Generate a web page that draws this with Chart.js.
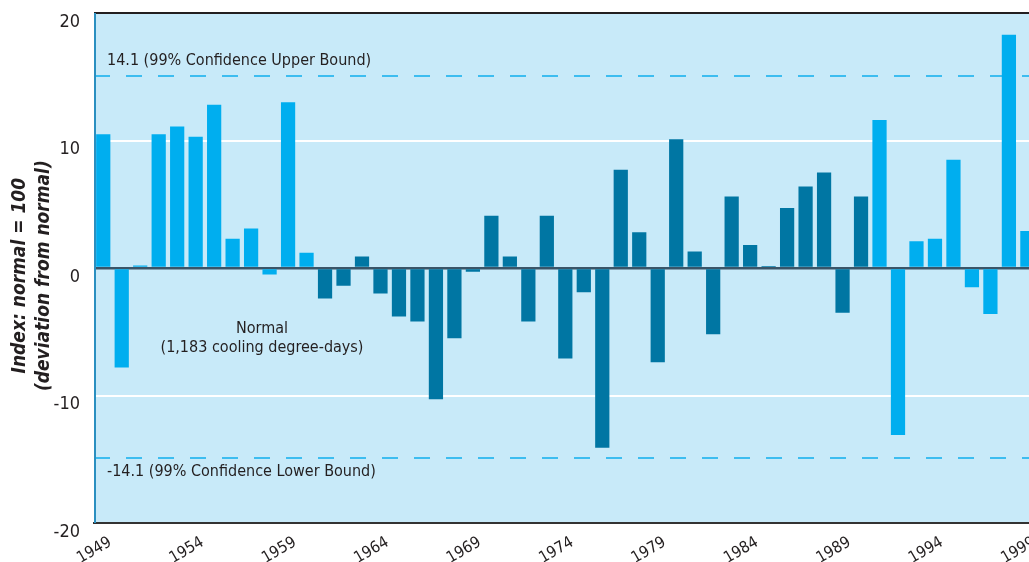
<!DOCTYPE html>
<html>
<head>
<meta charset="utf-8">
<script src="https://cdn.jsdelivr.net/npm/chart.js@4/dist/chart.umd.min.js"></script>
<style>
  html, body { margin: 0; padding: 0; background: #ffffff; overflow: hidden; }
  #wrap { width: 1029px; height: 562px; overflow: hidden; position: relative; }
  #chart { position: absolute; left: 0; top: 0; }
</style>
</head>
<body>
<div id="wrap"><canvas id="chart" width="1047" height="562"></canvas></div>
<script>
// cooling degree-days index, deviation from normal (normal = 100)
const years = ['1949','1950','1951','1952','1953','1954','1955','1956','1957','1958',
    '1959','1960','1961','1962','1963','1964','1965','1966','1967','1968',
    '1969','1970','1971','1972','1973','1974','1975','1976','1977','1978',
    '1979','1980','1981','1982','1983','1984','1985','1986','1987','1988',
    '1989','1990','1991','1992','1993','1994','1995','1996','1997','1998','1999'];
const deviations = [10.5, -7.8, 0.2, 10.5, 11.1, 10.3, 12.8, 2.3, 3.1, -0.5,
    13.0, 1.2, -2.4, -1.4, 0.9, -2.0, -3.8, -4.2, -10.3, -5.5,
    -0.3, 4.1, 0.9, -4.2, 4.1, -7.1, -1.9, -14.1, 7.7, 2.8,
    -7.4, 10.1, 1.3, -5.2, 5.6, 1.8, 0.15, 4.7, 6.4, 7.5,
    -3.5, 5.6, 11.6, -13.1, 2.1, 2.3, 8.5, -1.5, -3.6, 18.3, 2.9];
const tickYears = ['1949','1954','1959','1964','1969','1974','1979','1984','1989','1994','1999'];
const yTicks = [-20, -10, 0, 10, 20];
const darkPeriod = [1961, 1990]; // years drawn in the darker blue
const boundLines = [15.05, -14.9];
const boundLabels = ['14.1 (99% Confidence Upper Bound)', '-14.1 (99% Confidence Lower Bound)'];
const normalLabel = ['Normal', '(1,183 cooling degree-days)'];
const yTitle = ['Index: normal = 100', '(deviation from normal)'];

const FONT = '"Liberation Sans Narrow", "DejaVu Sans Condensed", "Roboto Condensed", sans-serif';
const TXT = '#231f20';
const LIGHT = '#00aeef';
const DARK = '#0076a3';

const barColors = years.map((y) => {
    const n = parseInt(y, 10);
    return (n >= darkPeriod[0] && n <= darkPeriod[1]) ? DARK : LIGHT;
});

// plot background + dashed bounds + notes + axis title
const decor = {
    id: 'decor',
    beforeDraw(chart) {
        const a = chart.chartArea;
        const ctx = chart.ctx;
        ctx.save();
        ctx.fillStyle = '#c8eaf9';
        ctx.fillRect(a.left, a.top, a.right - a.left, a.bottom - a.top);
        ctx.restore();
    },
    beforeDatasetsDraw(chart) {
        const a = chart.chartArea;
        const ctx = chart.ctx;
        const y = chart.scales.y;
        ctx.save();
        ctx.strokeStyle = '#3dbdf0';
        ctx.lineWidth = 2;
        ctx.setLineDash([16, 16]);
        boundLines.forEach((v) => {
            const py = Math.round(y.getPixelForValue(v));
            ctx.beginPath();
            ctx.moveTo(a.left, py);
            ctx.lineTo(a.right, py);
            ctx.stroke();
        });
        ctx.restore();
    },
    afterDatasetsDraw(chart) {
        const a = chart.chartArea;
        const ctx = chart.ctx;
        const y = chart.scales.y;
        ctx.save();
        ctx.fillStyle = TXT;
        ctx.font = '16px ' + FONT;
        ctx.textBaseline = 'middle';
        ctx.textAlign = 'left';
        ctx.fillText(boundLabels[0], a.left + 13, y.getPixelForValue(boundLines[0]) - 15);
        ctx.fillText(boundLabels[1], a.left + 13, y.getPixelForValue(boundLines[1]) + 14);
        ctx.textAlign = 'center';
        ctx.fillText(normalLabel[0], a.left + 168, y.getPixelForValue(-4.8));
        ctx.fillText(normalLabel[1], a.left + 168, y.getPixelForValue(-6.3));
        // left edge line
        ctx.fillStyle = '#2a8fc0';
        ctx.fillRect(a.left, a.top, 2, a.bottom - a.top);
        // y axis title, two rotated lines
        ctx.fillStyle = TXT;
        ctx.font = 'italic bold 19px ' + FONT;
        ctx.translate(0, y.getPixelForValue(-0.6));
        ctx.rotate(-Math.PI / 2);
        ctx.fillText(yTitle[0], 0, 20);
        ctx.fillText(yTitle[1], 0, 44);
        ctx.restore();
    }
};

new Chart(document.getElementById('chart').getContext('2d'), {
    type: 'bar',
    data: {
        labels: years,
        datasets: [{
            data: deviations,
            backgroundColor: barColors,
            borderWidth: 0,
            barPercentage: 0.77,
            categoryPercentage: 1.0
        }]
    },
    options: {
        responsive: false,
        animation: false,
        devicePixelRatio: 1,
        layout: { padding: { top: 13, right: 2, left: 0, bottom: 0 } },
        plugins: {
            legend: { display: false },
            tooltip: { enabled: false }
        },
        scales: {
            x: {
                afterFit: (s) => { s.height = 39; },
                grid: { display: false, drawTicks: false },
                border: { display: true, color: '#333333', width: 2 },
                ticks: {
                    autoSkip: false,
                    maxRotation: 30,
                    minRotation: 30,
                    padding: 10,
                    labelOffset: 7,
                    color: TXT,
                    font: { family: FONT, size: 16 },
                    callback: function (val, i) {
                        const lbl = this.getLabelForValue(val);
                        return tickYears.includes(lbl) ? lbl : '';
                    }
                }
            },
            y: {
                min: yTicks[0],
                max: yTicks[yTicks.length - 1],
                afterFit: (s) => { s.width = 94; s.paddingTop = 0; s.paddingBottom = 0; },
                afterBuildTicks: (s) => { s.ticks = yTicks.map((v) => ({ value: v })); },
                border: { display: false },
                grid: {
                    drawTicks: false,
                    color: (c) => c.tick.value === 0 ? '#3a5568' : (c.tick.value === 20 ? '#231f20' : '#ffffff'),
                    lineWidth: (c) => c.tick.value === 0 ? 2.5 : 2
                },
                ticks: {
                    padding: 14,
                    labelOffset: 9,
                    color: TXT,
                    font: { family: FONT, size: 18 }
                },
                title: { display: false }
            }
        }
    },
    plugins: [decor]
});
</script>
</body>
</html>
